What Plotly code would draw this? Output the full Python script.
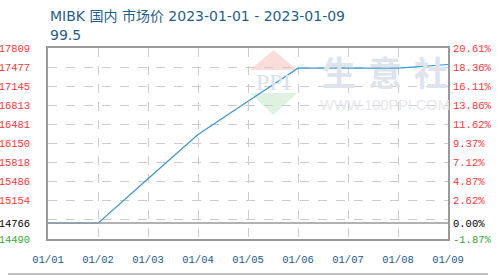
import plotly.graph_objects as go

# ---- data ----
dates = ["01/01", "01/02", "01/03", "01/04", "01/05", "01/06", "01/07", "01/08", "01/09"]
prices = [14766, 14766, 15536, 16306, 16882, 17458, 17458, 17458, 17522]
base_price = 14766
y_min, y_max = 14490, 17809
left_ticks = [14490, 14766, 15154, 15486, 15818, 16150, 16481, 16813, 17145, 17477, 17809]
right_labels = ["-1.87%", "0.00%", "2.62%", "4.87%", "7.12%", "9.37%", "11.62%", "13.86%", "16.11%", "18.36%", "20.61%"]
grid_vals = [14822, 15154, 15486, 15818, 16150, 16481, 16813, 17145, 17477]
title_text = "MIBK 国内 市场价 2023-01-01 - 2023-01-09"
sub_text = "99.5"

W, H = 498, 276
ML, MR, MT, MB = 48, 50, 48, 37
PW, PH = W - ML - MR, H - MT - MB

RED, GREEN, BLACK = "#ff3333", "#33aa33", "#000000"
def tcolor(v):
    return BLACK if v == base_price else (RED if v > base_price else GREEN)

left_text = [f"<span style='color:{tcolor(v)}'>{v}</span>" for v in left_ticks]
right_text = [f"<span style='color:{tcolor(v)}'>{t}</span>" for v, t in zip(left_ticks, right_labels)]

def px(x):
    return (x - ML) / PW
def py(y):
    return (H - MB - y) / PH

xs = list(range(len(dates)))
fig = go.Figure()

# watermark (decoration)
shapes = []
shapes.append(dict(type="path", xref="paper", yref="paper", layer="below",
                   path=f"M {px(250)} {py(70)} L {px(273.5)} {py(50)} L {px(297)} {py(70)} Z",
                   fillcolor="#fbdcdc", line=dict(width=0)))
shapes.append(dict(type="path", xref="paper", yref="paper", layer="below",
                   path=f"M {px(250)} {py(93)} L {px(273.5)} {py(115)} L {px(297)} {py(93)} Z",
                   fillcolor="#dff1e0", line=dict(width=0)))

fig.add_trace(go.Scatter(x=xs, y=prices, mode="lines",
                         line=dict(color="#3a96d6", width=1.2), yaxis="y", showlegend=False,
                         hoverinfo="skip"))
# invisible traces to activate overlay axes
fig.add_trace(go.Scatter(x=[xs[0]], y=[prices[0]], mode="markers", marker=dict(opacity=0),
                         yaxis="y2", showlegend=False, hoverinfo="skip"))
fig.add_trace(go.Scatter(x=[xs[0]], y=[prices[0]], mode="markers", marker=dict(opacity=0),
                         yaxis="y3", showlegend=False, hoverinfo="skip"))

# base line
shapes.append(dict(type="line", xref="paper", yref="y", x0=0, x1=1, y0=base_price, y1=base_price,
                   line=dict(color="#999999", width=1.5), layer="above"))
# bottom separator
shapes.append(dict(type="line", xref="paper", yref="paper", x0=px(8), x1=px(488), y0=py(274), y1=py(274),
                   line=dict(color="#aaaaaa", width=1.5)))

title_font = dict(family="DejaVu Sans, Noto Sans CJK SC", size=14, color="#1f5f8c")
annotations = [
    dict(text=title_text, xref="paper", yref="paper", x=0, y=py(16), xanchor="left", yanchor="middle",
         showarrow=False, font=title_font),
    dict(text=sub_text, xref="paper", yref="paper", x=0, y=py(35), xanchor="left", yanchor="middle",
         showarrow=False, font=title_font),
    dict(text="PPI", xref="paper", yref="paper", x=px(273.5), y=py(82), xanchor="center", yanchor="middle",
         showarrow=False, font=dict(family="Liberation Serif", size=24, color="#dae0f0")),
    dict(text="WWW.100PPI.COM", xref="paper", yref="paper", x=px(385), y=py(105), xanchor="center",
         yanchor="middle", showarrow=False, font=dict(family="Liberation Sans", size=14.5, color="#e6e7ec")),
]
for ch, cx in zip("生意社", [339, 385, 431]):
    annotations.append(dict(text=f"<b>{ch}</b>", xref="paper", yref="paper", x=px(cx), y=py(71),
                            xanchor="center", yanchor="middle", showarrow=False,
                            font=dict(family="Noto Sans CJK SC", size=34, color="#dfe3ec")))

tickfont = dict(family="Liberation Mono", size=10.5, color="#000000")
fig.update_layout(
    width=W, height=H, margin=dict(l=ML, r=MR, t=MT, b=MB, autoexpand=False),
    paper_bgcolor="white", plot_bgcolor="white",
    showlegend=False, shapes=shapes, annotations=annotations,
    xaxis=dict(range=[0, len(dates) - 1], tickvals=xs, ticktext=dates, showgrid=True,
               gridcolor="#cccccc", griddash="dash", gridwidth=1, zeroline=False,
               showline=True, mirror=True, linecolor="#999999", linewidth=1.5,
               ticks="", ticklabelstandoff=10,
               tickfont=dict(family="Liberation Mono", size=10.5, color="#1a5a8a")),
    yaxis=dict(range=[y_min, y_max], tickvals=left_ticks, ticktext=left_text, showgrid=False,
               zeroline=False, showline=True, mirror=True, linecolor="#999999", linewidth=1.5,
               ticks="", ticklabelstandoff=14, tickfont=tickfont),
    yaxis2=dict(range=[y_min, y_max], tickvals=left_ticks, ticktext=right_text, showgrid=False,
                zeroline=False, overlaying="y", side="right", ticks="", ticklabelstandoff=4,
                tickfont=tickfont, showline=False),
    yaxis3=dict(range=[y_min, y_max], tickvals=grid_vals, showticklabels=False, showgrid=True,
                gridcolor="#cccccc", griddash="dash", gridwidth=1, zeroline=False,
                overlaying="y", ticks="", showline=False),
)
fig.write_html("out.html")
